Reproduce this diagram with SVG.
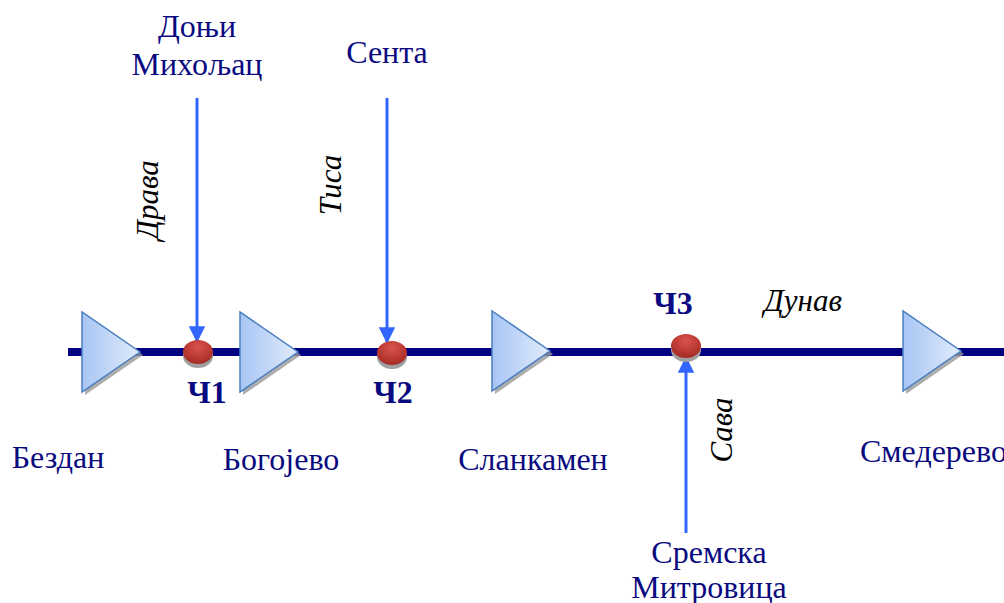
<svg xmlns="http://www.w3.org/2000/svg" width="1004" height="603" viewBox="0 0 1004 603">
<defs>
<linearGradient id="tri" x1="0" y1="0" x2="1" y2="0">
<stop offset="0" stop-color="#a7c5f4"/>
<stop offset="1" stop-color="#e1ebfb"/>
</linearGradient>
<radialGradient id="dot" cx="0.5" cy="0.3" r="0.7">
<stop offset="0" stop-color="#d9534a"/>
<stop offset="1" stop-color="#a52a25"/>
</radialGradient>
<marker id="ah" viewBox="0 0 10 10" refX="9" refY="5" markerWidth="5.5" markerHeight="5.5" orient="auto-start-reverse" markerUnits="strokeWidth">
<path d="M0,0 L10,5 L0,10 z" fill="#3366ff"/>
</marker>
<g id="triShape">
<polygon points="3,3 3,83 61,43" fill="#999" opacity="0.8"/>
<polygon points="0,0 0,80 58,40" fill="url(#tri)" stroke="#4a7fc1" stroke-width="1.5"/>
</g>
<g id="dotShape">
<ellipse cx="0" cy="4" rx="15" ry="12" fill="#a0a0a0"/>
<ellipse cx="0" cy="0" rx="15" ry="12" fill="url(#dot)"/>
</g>
</defs>
<style>
.city{font-family:"Liberation Serif",serif;font-size:32px;fill:#0a0a80;text-anchor:middle}
.river{font-family:"Liberation Serif",serif;font-size:31px;font-style:italic;fill:#000;text-anchor:middle}
.ch{font-family:"Liberation Serif",serif;font-size:32px;font-weight:bold;fill:#0a0a80;text-anchor:middle}
.conn{stroke:#3366ff;stroke-width:3;fill:none}
</style>
<line x1="68" y1="352" x2="1004" y2="352" stroke="#000080" stroke-width="8"/>
<g id="connectors">
<line class="conn" x1="197" y1="98" x2="197" y2="341" marker-end="url(#ah)"/>
<line class="conn" x1="387" y1="98" x2="387" y2="342" marker-end="url(#ah)"/>
<line class="conn" x1="686" y1="533" x2="686" y2="358" marker-end="url(#ah)"/>
</g>
<g id="bezdan">
<use href="#triShape" x="82" y="312"/>
<text class="city" x="58" y="468">Бездан</text>
</g>
<g id="bogojevo">
<use href="#triShape" x="240" y="312"/>
<text class="city" x="281" y="470">Богојево</text>
</g>
<g id="slankamen">
<use href="#triShape" x="492" y="311"/>
<text class="city" x="533" y="470">Сланкамен</text>
</g>
<g id="smederevo">
<use href="#triShape" x="903" y="311"/>
<text class="city" x="860" y="462" style="text-anchor:start">Смедерево</text>
</g>
<g id="ch1">
<use href="#dotShape" x="198" y="352"/>
<text class="ch" x="207" y="403">Ч1</text>
</g>
<g id="ch2">
<use href="#dotShape" x="392" y="353"/>
<text class="ch" x="393" y="403">Ч2</text>
</g>
<g id="ch3">
<use href="#dotShape" x="686" y="346"/>
<text class="ch" x="673" y="314">Ч3</text>
</g>
<g id="donji">
<text class="city" x="197" y="37">Доњи</text>
<text class="city" x="197" y="75">Михољац</text>
</g>
<g id="senta">
<text class="city" x="387" y="63">Сента</text>
</g>
<g id="sremska">
<text class="city" x="709" y="563">Сремска</text>
<text class="city" x="709" y="598">Митровица</text>
</g>
<text class="river" transform="translate(158,200) rotate(-90)">Драва</text>
<text class="river" transform="translate(341,185) rotate(-90)">Тиса</text>
<text class="river" transform="translate(732,430) rotate(-90)">Сава</text>
<text class="river" x="803" y="311">Дунав</text>
</svg>
